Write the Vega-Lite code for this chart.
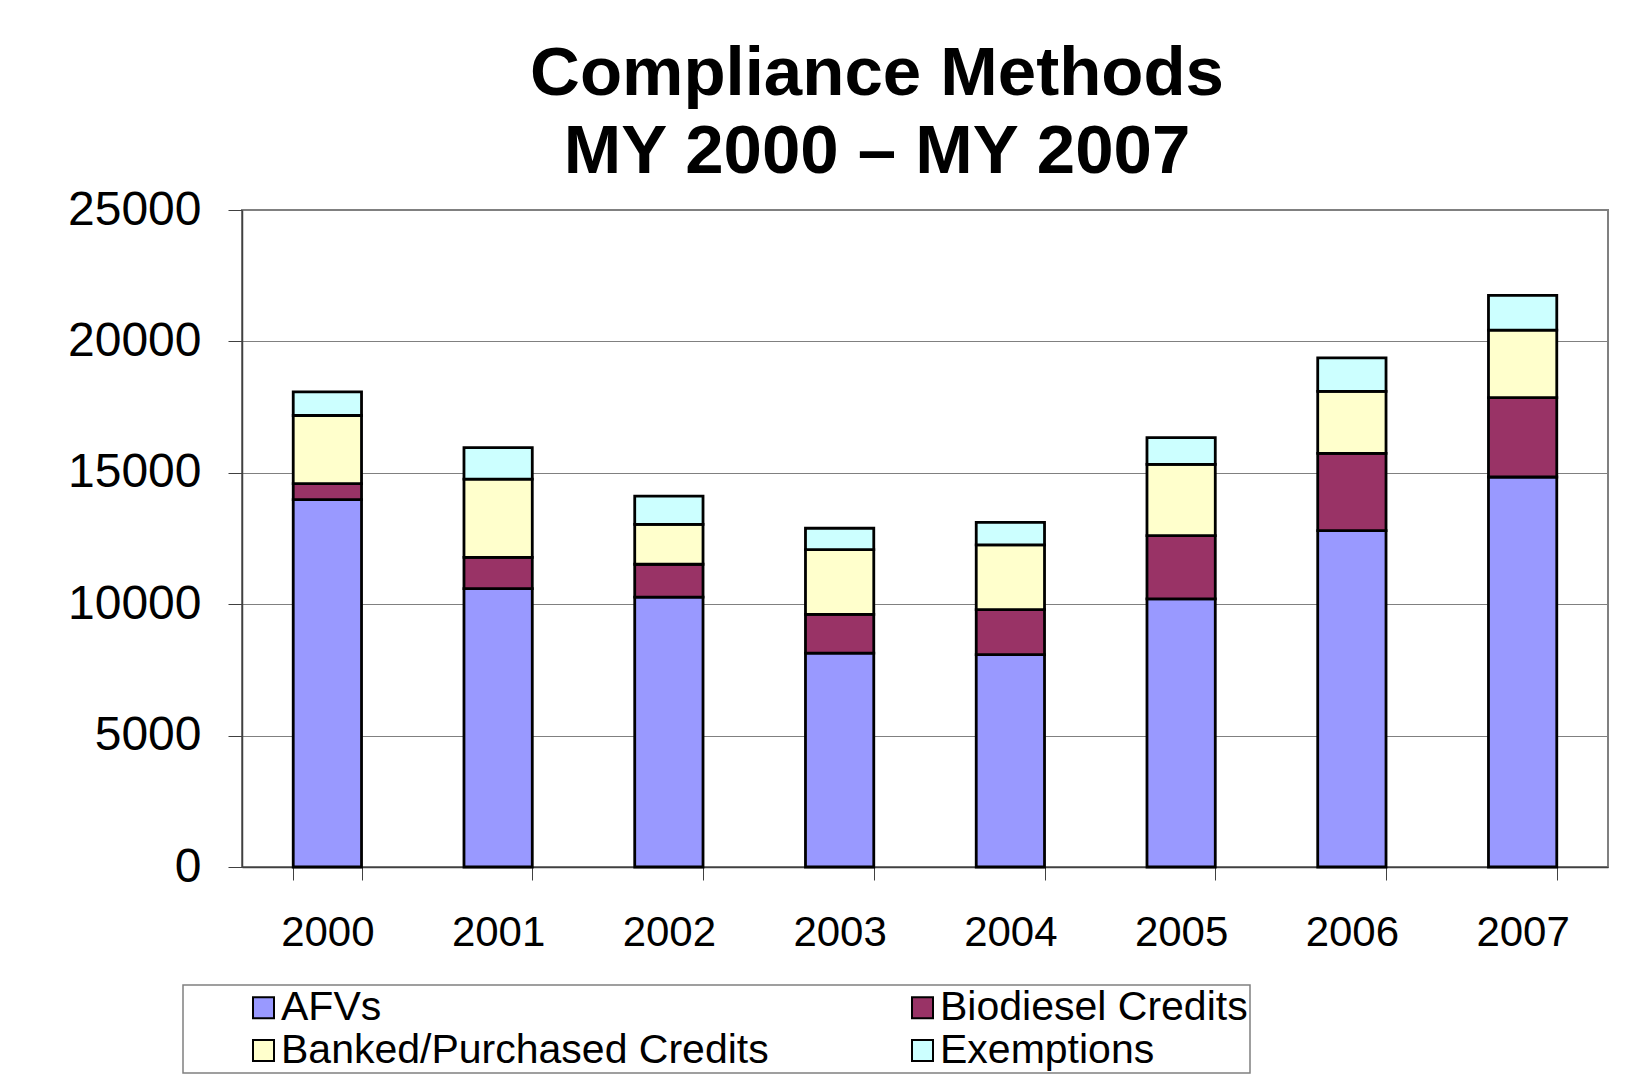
{
  "$schema": "https://vega.github.io/schema/vega-lite/v6.json",
  "width": 1366,
  "height": 657,
  "autosize": {"type": "none"},
  "padding": {"left": 242, "top": 210, "right": 37, "bottom": 222},
  "background": "white",
  "title": {
    "text": ["Compliance Methods", "MY 2000 – MY 2007"],
    "font": "Liberation Sans",
    "fontSize": 69,
    "fontWeight": "bold",
    "lineHeight": 78,
    "anchor": "middle",
    "dx": -48,
    "offset": -1,
    "color": "black"
  },
  "data": {
    "values": [
      {"year": "2000", "method": "AFVs", "value": 13980},
      {"year": "2000", "method": "Biodiesel Credits", "value": 610},
      {"year": "2000", "method": "Banked/Purchased Credits", "value": 2590},
      {"year": "2000", "method": "Exemptions", "value": 900},
      {"year": "2001", "method": "AFVs", "value": 10590},
      {"year": "2001", "method": "Biodiesel Credits", "value": 1190},
      {"year": "2001", "method": "Banked/Purchased Credits", "value": 2980},
      {"year": "2001", "method": "Exemptions", "value": 1200},
      {"year": "2002", "method": "AFVs", "value": 10270},
      {"year": "2002", "method": "Biodiesel Credits", "value": 1250},
      {"year": "2002", "method": "Banked/Purchased Credits", "value": 1520},
      {"year": "2002", "method": "Exemptions", "value": 1070},
      {"year": "2003", "method": "AFVs", "value": 8140},
      {"year": "2003", "method": "Biodiesel Credits", "value": 1470},
      {"year": "2003", "method": "Banked/Purchased Credits", "value": 2470},
      {"year": "2003", "method": "Exemptions", "value": 810},
      {"year": "2004", "method": "AFVs", "value": 8080},
      {"year": "2004", "method": "Biodiesel Credits", "value": 1710},
      {"year": "2004", "method": "Banked/Purchased Credits", "value": 2470},
      {"year": "2004", "method": "Exemptions", "value": 850},
      {"year": "2005", "method": "AFVs", "value": 10200},
      {"year": "2005", "method": "Biodiesel Credits", "value": 2410},
      {"year": "2005", "method": "Banked/Purchased Credits", "value": 2710},
      {"year": "2005", "method": "Exemptions", "value": 1020},
      {"year": "2006", "method": "AFVs", "value": 12800},
      {"year": "2006", "method": "Biodiesel Credits", "value": 2940},
      {"year": "2006", "method": "Banked/Purchased Credits", "value": 2360},
      {"year": "2006", "method": "Exemptions", "value": 1270},
      {"year": "2007", "method": "AFVs", "value": 14840},
      {"year": "2007", "method": "Biodiesel Credits", "value": 3020},
      {"year": "2007", "method": "Banked/Purchased Credits", "value": 2570},
      {"year": "2007", "method": "Exemptions", "value": 1320}
    ]
  },
  "transform": [
    {"window": [{"op": "row_number", "as": "stackIndex"}], "groupby": ["year"]}
  ],
  "mark": {"type": "bar", "stroke": "black", "strokeWidth": 2.8},
  "encoding": {
    "x": {
      "field": "year",
      "type": "nominal",
      "scale": {"paddingInner": 0.6, "paddingOuter": 0.3},
      "axis": {
        "title": null,
        "labelAngle": 0,
        "labelFont": "Liberation Sans",
        "labelFontSize": 42,
        "labelColor": "black",
        "labelPadding": 32,
        "tickBand": "extent",
        "tickSize": 13,
        "tickColor": "#404040",
        "tickWidth": 1,
        "domainColor": "#404040",
        "domainWidth": 1.5,
        "grid": false
      }
    },
    "y": {
      "field": "value",
      "type": "quantitative",
      "stack": "zero",
      "scale": {"domain": [0, 25000], "nice": false},
      "axis": {
        "title": null,
        "values": [0, 5000, 10000, 15000, 20000, 25000],
        "format": "d",
        "labelFont": "Liberation Sans",
        "labelFontSize": 48,
        "labelColor": "black",
        "labelPadding": 27,
        "tickSize": 14,
        "tickColor": "#404040",
        "domainColor": "#404040",
        "domainWidth": 1.5,
        "grid": true,
        "gridColor": "#808080",
        "gridWidth": 1
      }
    },
    "order": {"field": "stackIndex", "type": "quantitative", "sort": "ascending"},
    "color": {
      "field": "method",
      "type": "nominal",
      "scale": {
        "domain": ["AFVs", "Biodiesel Credits", "Banked/Purchased Credits", "Exemptions"],
        "range": ["#9999FF", "#993366", "#FFFFCC", "#CCFFFF"]
      },
      "legend": {
        "title": null,
        "orient": "none",
        "legendX": -59,
        "legendY": 775,
        "direction": "horizontal",
        "columns": 2,
        "gridAlign": "all",
        "columnPadding": 75,
        "rowPadding": 1,
        "padding": 2,
        "strokeColor": "#808080",
        "fillColor": "white",
        "symbolType": "square",
        "symbolSize": 441,
        "symbolStrokeColor": "black",
        "symbolStrokeWidth": 2,
        "symbolOffset": 58,
        "labelOffset": -3,
        "labelFont": "Liberation Sans",
        "labelFontSize": 41,
        "labelColor": "black",
        "labelLimit": 0
      }
    }
  },
  "config": {
    "view": {"stroke": "#808080", "strokeWidth": 2},
    "legend": {"strokeWidth": 1.5}
  }
}
